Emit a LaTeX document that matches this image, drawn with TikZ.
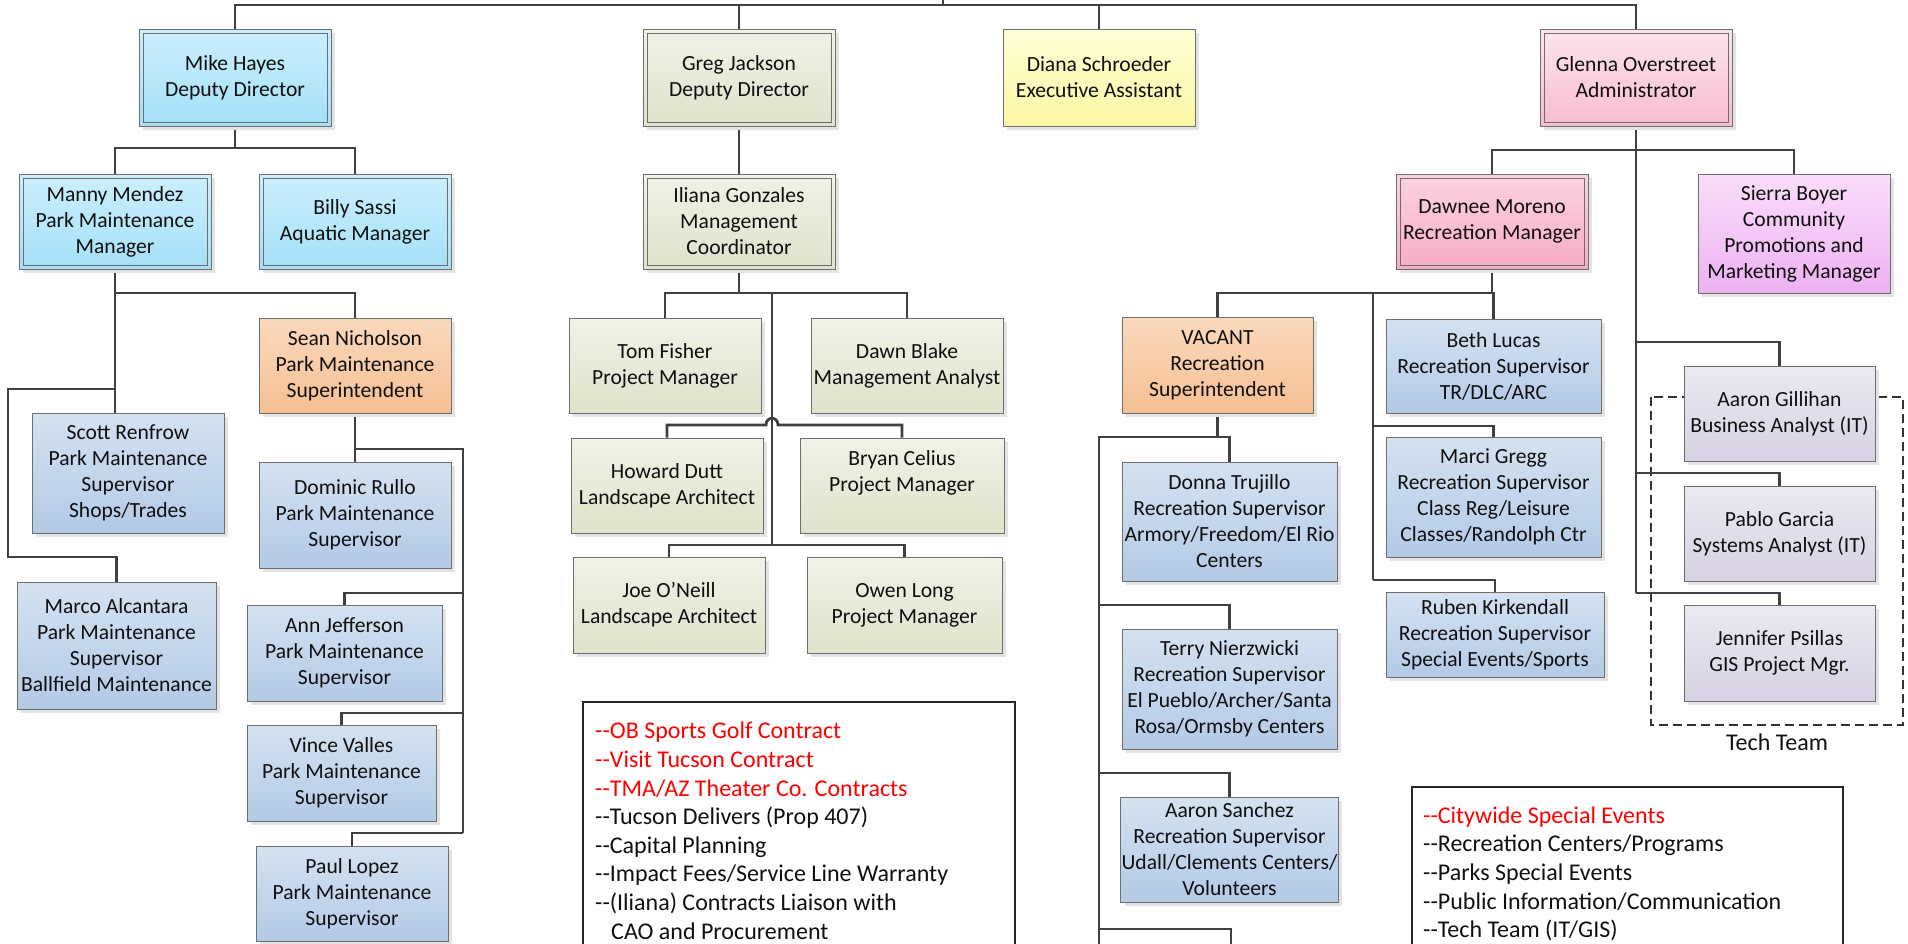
\documentclass[tikz,border=0pt]{standalone}
\usepackage{fontspec}
\setmainfont{Carlito}
\usetikzlibrary{shadows}
\pgfdeclarelayer{bg}
\pgfsetlayers{bg,main}
\definecolor{conncol}{HTML}{404040}
\definecolor{boxedge}{HTML}{6E6E6E}
\definecolor{txt}{HTML}{101010}
\definecolor{mbT}{HTML}{CBEFFC}
\definecolor{mbB}{HTML}{A5E0F8}
\definecolor{sbT}{HTML}{D4E2F0}
\definecolor{sbB}{HTML}{B3CAE5}
\definecolor{grT}{HTML}{F0F2E6}
\definecolor{grB}{HTML}{DDE3CB}
\definecolor{ylT}{HTML}{FFFFD6}
\definecolor{ylB}{HTML}{FBF7A3}
\definecolor{gpT}{HTML}{FDE5ED}
\definecolor{gpB}{HTML}{F8BCD0}
\definecolor{dpT}{HTML}{FCD3DF}
\definecolor{dpB}{HTML}{F7ADC4}
\definecolor{orT}{HTML}{FBD9BD}
\definecolor{orB}{HTML}{F5BF92}
\definecolor{svT}{HTML}{FADEFA}
\definecolor{svB}{HTML}{ECB1F1}
\definecolor{lvT}{HTML}{EBE9F2}
\definecolor{lvB}{HTML}{D7D1E3}
\definecolor{notered}{HTML}{FF0000}
\newcommand\boxfont{\fontsize{21.6}{26}\selectfont}
\newcommand\notefont{\fontsize{24}{28.6}\selectfont}
\newcommand\dsh{\mbox{-}\mbox{-}}
\begin{document}
\begin{tikzpicture}[x=1pt,y=-1pt,
  box/.style={draw=boxedge, line width=0.9pt, align=center, inner sep=1pt,
    font=\boxfont, text=txt,
    drop shadow={shadow xshift=4pt,shadow yshift=-4pt,fill=black!11,opacity=1}},
  wh/.style n args={2}{minimum width=#1pt, minimum height=#2pt},
  mgrblue/.style={box, top color=mbT, bottom color=mbB},
  staffblue/.style={box, top color=sbT, bottom color=sbB},
  greenbox/.style={box, top color=grT, bottom color=grB},
  yellowbox/.style={box, top color=ylT, bottom color=ylB},
  glennabox/.style={box, top color=gpT, bottom color=gpB},
  dawneebox/.style={box, top color=dpT, bottom color=dpB},
  orangebox/.style={box, top color=orT, bottom color=orB},
  sierrabox/.style={box, top color=svT, bottom color=svB},
  lavbox/.style={box, top color=lvT, bottom color=lvB},
  conn/.style={draw=conncol, line width=2.8pt},
  inner/.style={draw=boxedge, line width=0.9pt},
  notebox/.style={draw=black!85, line width=1.1pt},
  notetext/.style={anchor=north west, inner sep=0pt, align=left, font=\notefont, text=txt}
]
\useasboundingbox (0,0) rectangle (1908,943);

% ---------- top level ----------
\node[mgrblue, wh={192}{97}] (mike) at (235,77.5) {Mike Hayes\\Deputy Director};
\node[greenbox, wh={192}{97}] (greg) at (739,77.5) {Greg Jackson\\Deputy Director};
\node[yellowbox, wh={192}{97}] (diana) at (1099,77.5) {Diana Schroeder\\Executive Assistant};
\node[glennabox, wh={192}{97}] (glenna) at (1636,77.5) {Glenna Overstreet\\Administrator};

% ---------- Mike branch ----------
\node[mgrblue, wh={192}{95}] (manny) at (115,221.5) {Manny Mendez\\Park Maintenance\\Manager};
\node[mgrblue, wh={192}{95}] (billy) at (355,221.5) {Billy Sassi\\Aquatic Manager};
\node[orangebox, wh={192}{95}] (sean) at (355,365.5) {Sean Nicholson\\Park Maintenance\\Superintendent};
\node[staffblue, wh={192}{120}] (scott) at (128,473) {Scott Renfrow\\Park Maintenance\\Supervisor\\Shops/Trades};
\node[staffblue, wh={199}{127}] (marco) at (116.5,645.5) {Marco Alcantara\\Park Maintenance\\Supervisor\\Ballfield Maintenance};
\node[staffblue, wh={192}{106}] (dominic) at (355,515) {Dominic Rullo\\Park Maintenance\\Supervisor};
\node[staffblue, wh={195}{96}] (ann) at (344.5,653) {Ann Jefferson\\Park Maintenance\\Supervisor};
\node[staffblue, wh={189}{96}] (vince) at (341.5,773) {Vince Valles\\Park Maintenance\\Supervisor};
\node[staffblue, wh={192}{95}] (paul) at (352,893.5) {Paul Lopez\\Park Maintenance\\Supervisor};

% ---------- Greg branch ----------
\node[greenbox, wh={192}{95}] (iliana) at (739,221.5) {Iliana Gonzales\\Management\\Coordinator};
\node[greenbox, wh={192}{95}] (tom) at (665,365.5) {Tom Fisher\\Project Manager};
\node[greenbox, wh={192}{95}] (dawn) at (907,365.5) {Dawn Blake\\Management Analyst};
\node[greenbox, wh={192}{95}] (howard) at (667,485.5) {Howard Dutt\\Landscape Architect};
\node[greenbox, wh={204}{95}] (bryan) at (902,485.5) {Bryan Celius\\Project Manager\\[4pt]};
\node[greenbox, wh={192}{96}] (joe) at (669,605) {Joe O’Neill\\Landscape Architect};
\node[greenbox, wh={195}{96}] (owen) at (904.5,605) {Owen Long\\Project Manager};

% ---------- Glenna branch ----------
\node[dawneebox, wh={192}{95}] (dawnee) at (1492,221.5) {Dawnee Moreno\\Recreation Manager};
\node[sierrabox, wh={192}{119}] (sierra) at (1794,233.5) {Sierra Boyer\\Community\\Promotions and\\Marketing Manager};
\node[orangebox, wh={191}{96}] (vacant) at (1217.5,365) {VACANT\\Recreation\\Superintendent};
\node[staffblue, wh={215}{94}] (beth) at (1493.5,366) {Beth Lucas\\Recreation Supervisor\\TR/DLC/ARC};
\node[staffblue, wh={215}{120}] (marci) at (1493.5,497) {Marci Gregg\\Recreation Supervisor\\Class Reg/Leisure\\Classes/Randolph Ctr};
\node[staffblue, wh={218}{85}] (ruben) at (1495,634.5) {Ruben Kirkendall\\Recreation Supervisor\\Special Events/Sports};
\node[staffblue, wh={215}{119}] (donna) at (1229.5,521.5) {Donna Trujillo\\Recreation Supervisor\\Armory/Freedom/El Rio\\Centers};
\node[staffblue, wh={215}{120}] (terry) at (1229.5,689) {Terry Nierzwicki\\Recreation Supervisor\\El Pueblo/Archer/Santa\\Rosa/Ormsby Centers};
\node[staffblue, wh={215}{105}] (aarons) at (1229.5,849.5) {Aaron Sanchez\\Recreation Supervisor\\Udall/Clements Centers/\\Volunteers};
\node[lavbox, wh={191}{95}] (aarong) at (1779.5,413.5) {Aaron Gillihan\\Business Analyst (IT)};
\node[lavbox, wh={191}{95}] (pablo) at (1779.5,533.5) {Pablo Garcia\\Systems Analyst (IT)};
\node[lavbox, wh={191}{96}] (jennifer) at (1779.5,653) {Jennifer Psillas\\GIS Project Mgr.};

% double borders
\foreach \n in {mike,greg,glenna,manny,billy,iliana,dawnee}
  \draw[inner] ([shift={(4.5pt,-4.5pt)}]\n.north west) rectangle ([shift={(-4.5pt,4.5pt)}]\n.south east);

% ---------- notes ----------
\draw[notebox] (583,702) rectangle (1015,960);
\node[notetext] (notesA) at (595,722) {%
  \textcolor{notered}{\dsh OB Sports Golf Contract}\\
  \textcolor{notered}{\dsh Visit Tucson Contract}\\
  \textcolor{notered}{\dsh TMA/AZ Theater Co. Contracts}\\
  \dsh Tucson Delivers (Prop 407)\\
  \dsh Capital Planning\\
  \dsh Impact Fees/Service Line Warranty\\
  \dsh(Iliana) Contracts Liaison with\\
  \hspace*{16pt}CAO and Procurement};
\draw[notebox] (1412,787) rectangle (1843,960);
\node[notetext] (notesB) at (1423,806.5) {%
  \textcolor{notered}{\dsh Citywide Special Events}\\
  \dsh Recreation Centers/Programs\\
  \dsh Parks Special Events\\
  \dsh Public Information/Communication\\
  \dsh Tech Team (IT/GIS)};
\node[font=\notefont, text=txt, inner sep=0pt] (techlbl) at (1777,742) {Tech Team};

% ---------- connectors ----------
\begin{pgfonlayer}{bg}
\draw[draw=black!80, line width=1.3pt, dash pattern=on 9pt off 5pt] (1651,397) rectangle (1903,725);

\coordinate (root) at (943,-5);
\coordinate (topbar) at (943,5);
\draw[conn] (root) -- (topbar);
\draw[conn] (mike.north) -- (mike.north|-topbar) -- (glenna.north|-topbar) -- (glenna.north);
\draw[conn] (greg.north) -- (greg.north|-topbar);
\draw[conn] (diana.north) -- (diana.north|-topbar);

% Mike
\coordinate (b1) at (0,148);
\draw[conn] (mike.south) -- (mike.south|-b1);
\draw[conn] (manny.north) -- (manny.north|-b1) -- (billy.north|-b1) -- (billy.north);
% Manny
\coordinate (b2) at (0,293);
\coordinate (b3) at (0,389);
\coordinate (b4) at (8,557);
\draw[conn] (manny.south) -- (manny.south|-scott.north);
\draw[conn] (manny.south|-b2) -| (sean.north);
\draw[conn] (manny.south|-b3) -| (b4) -| (marco.north);
% Sean
\coordinate (sv) at (463,449);
\coordinate (svend) at (463,833);
\draw[conn] (sean.south) -- (sean.south|-dominic.north);
\draw[conn] (sean.south|-sv) -- (sv) -- (svend);
\draw[conn] (sv|-0,593) -| (ann.north);
\draw[conn] (sv|-0,713) -| (vince.north);
\draw[conn] (svend) -| (paul.north);

% Greg / Iliana
\draw[conn] (greg.south) -- (iliana.north);
\coordinate (ib) at (739,293);
\coordinate (iv) at (772,293);
\coordinate (ivend) at (772,545);
\draw[conn] (iliana.south) -- (ib);
\draw[conn] (tom.north) -- (tom.north|-ib) -- (dawn.north|-ib) -- (dawn.north);
\draw[conn] (iv) -- (ivend);
\draw[conn] (howard.north) -- (howard.north|-0,425) -- (766,425)
   .. controls (766,416) and (778,416) .. (778,425) -- (bryan.north|-0,425) -- (bryan.north);
\draw[conn] (joe.north) -- (joe.north|-ivend) -- (owen.north|-ivend) -- (owen.north);

% Glenna
\coordinate (gb) at (0,150);
\coordinate (gvend) at (1636,593);
\draw[conn] (glenna.south) -- (gvend);
\draw[conn] (dawnee.north) -- (dawnee.north|-gb) -- (sierra.north|-gb) -- (sierra.north);
\draw[conn] (gvend|-0,342) -| (aarong.north);
\draw[conn] (gvend|-0,473) -| (pablo.north);
\draw[conn] (gvend) -| (jennifer.north);

% Dawnee
\coordinate (db) at (0,293);
\coordinate (dv) at (1373,293);
\coordinate (dvend) at (1373,580);
\draw[conn] (dawnee.south) -- (dawnee.south|-db);
\draw[conn] (vacant.north) -- (vacant.north|-db) -- (beth.north|-db) -- (beth.north);
\draw[conn] (dv) -- (dvend);
\draw[conn] (dv|-0,426) -| (marci.north);
\draw[conn] (dvend) -| (ruben.north);

% Vacant
\coordinate (vb) at (1099,437);
\coordinate (vend) at (1099,960);
\coordinate (offbox) at (1231,960);
\draw[conn] (vacant.south) -- (vacant.south|-vb);
\draw[conn] (vend) -- (vb) -| (donna.north);
\draw[conn] (vb|-0,605) -| (terry.north);
\draw[conn] (vb|-0,773) -| (aarons.north);
\draw[conn] (vb|-0,929) -| (offbox);
\end{pgfonlayer}
\end{tikzpicture}
\end{document}
